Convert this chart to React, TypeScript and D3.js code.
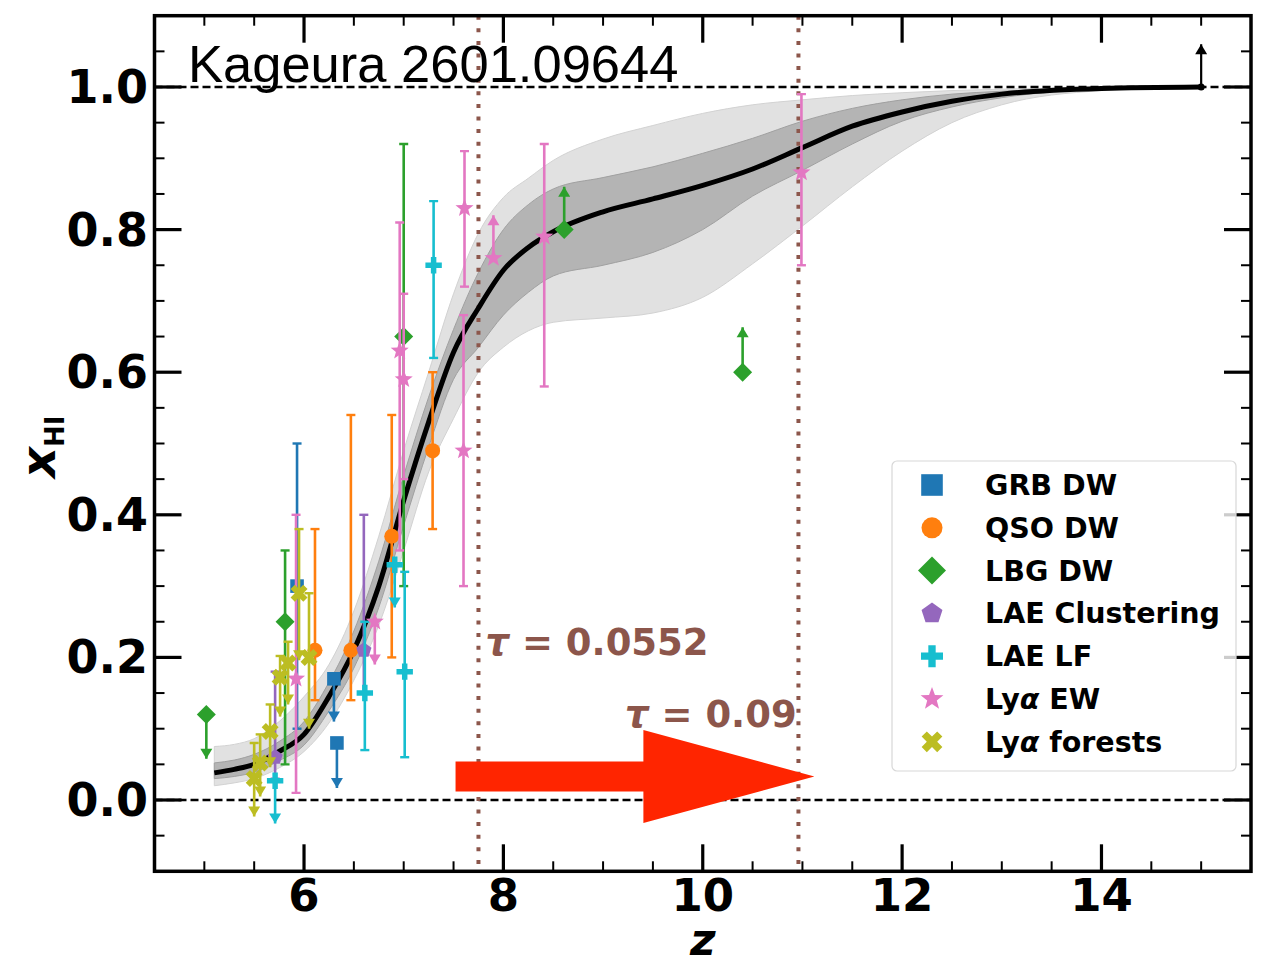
import React from 'react';
import * as d3 from 'd3';

// ---------------- data ----------------
const xTicks = [6, 8, 10, 12, 14];
const yTicks = [0.0, 0.2, 0.4, 0.6, 0.8, 1.0];

const bandZ = [5.1, 5.3, 5.5, 5.75, 6.0, 6.25, 6.5, 6.75, 7.0, 7.25, 7.5, 7.75, 8.0, 8.25, 8.5, 9.0, 9.5, 10.0, 10.5, 11.0, 11.5, 12.0, 12.5, 13.0, 14.0, 15.0];
const medianXHI = [0.038, 0.043, 0.05, 0.068, 0.092, 0.145, 0.21, 0.30, 0.42, 0.53, 0.628, 0.69, 0.743, 0.775, 0.797, 0.825, 0.843, 0.862, 0.885, 0.915, 0.945, 0.965, 0.98, 0.99, 0.998, 1.0];
const innerHi = [0.052, 0.056, 0.064, 0.082, 0.11, 0.165, 0.237, 0.335, 0.455, 0.565, 0.66, 0.74, 0.80, 0.835, 0.857, 0.873, 0.888, 0.907, 0.928, 0.952, 0.97, 0.982, 0.99, 0.994, 0.999, 1.0];
const innerLo = [0.030, 0.033, 0.039, 0.055, 0.077, 0.125, 0.185, 0.27, 0.385, 0.495, 0.59, 0.635, 0.68, 0.712, 0.735, 0.75, 0.768, 0.80, 0.847, 0.883, 0.92, 0.952, 0.972, 0.985, 0.997, 1.0];
const outerHi = [0.075, 0.078, 0.086, 0.11, 0.145, 0.19, 0.265, 0.37, 0.49, 0.60, 0.71, 0.795, 0.845, 0.872, 0.897, 0.927, 0.946, 0.963, 0.975, 0.982, 0.988, 0.992, 0.995, 0.997, 0.999, 1.0];
const outerLo = [0.020, 0.024, 0.03, 0.045, 0.068, 0.108, 0.168, 0.245, 0.35, 0.46, 0.535, 0.60, 0.635, 0.658, 0.67, 0.676, 0.683, 0.705, 0.752, 0.805, 0.86, 0.91, 0.95, 0.975, 0.995, 1.0];

type Pt = { z: number; v: number; lo: number; hi: number; lim?: 'up' | 'low' };

const grbDW: Pt[] = [
  { z: 5.93, v: 0.30, lo: 0.20, hi: 0.20 },
  { z: 6.30, v: 0.17, lo: 0.06, hi: 0, lim: 'up' },
  { z: 6.33, v: 0.08, lo: 0.063, hi: 0, lim: 'up' },
];
const qsoDW: Pt[] = [
  { z: 6.11, v: 0.21, lo: 0.07, hi: 0.17 },
  { z: 6.47, v: 0.21, lo: 0.07, hi: 0.33 },
  { z: 6.88, v: 0.37, lo: 0.17, hi: 0.17 },
  { z: 7.29, v: 0.49, lo: 0.11, hi: 0.11 },
];
const lbgDW: Pt[] = [
  { z: 5.02, v: 0.12, lo: 0.062, hi: 0, lim: 'up' },
  { z: 5.81, v: 0.25, lo: 0.20, hi: 0.10 },
  { z: 7.00, v: 0.65, lo: 0.35, hi: 0.27 },
  { z: 8.61, v: 0.80, lo: 0, hi: 0.06, lim: 'low' },
  { z: 10.40, v: 0.60, lo: 0, hi: 0.063, lim: 'low' },
];
const laeClustering: Pt[] = [
  { z: 5.71, v: 0.06, lo: 0.03, hi: 0.12 },
  { z: 6.60, v: 0.21, lo: 0.06, hi: 0.19 },
];
const laeLF: Pt[] = [
  { z: 5.71, v: 0.027, lo: 0.06, hi: 0, lim: 'up' },
  { z: 6.61, v: 0.15, lo: 0.08, hi: 0.10 },
  { z: 6.91, v: 0.33, lo: 0.06, hi: 0, lim: 'up' },
  { z: 7.01, v: 0.18, lo: 0.12, hi: 0.14 },
  { z: 7.30, v: 0.75, lo: 0.13, hi: 0.09 },
];
const lyaEW: Pt[] = [
  { z: 5.92, v: 0.17, lo: 0.16, hi: 0.23 },
  { z: 6.71, v: 0.25, lo: 0.06, hi: 0, lim: 'up' },
  { z: 6.96, v: 0.63, lo: 0.28, hi: 0.18 },
  { z: 7.00, v: 0.59, lo: 0.14, hi: 0.12 },
  { z: 7.61, v: 0.83, lo: 0.11, hi: 0.08 },
  { z: 7.60, v: 0.49, lo: 0.19, hi: 0.19 },
  { z: 7.90, v: 0.76, lo: 0, hi: 0.06, lim: 'low' },
  { z: 8.41, v: 0.79, lo: 0.21, hi: 0.13 },
  { z: 10.99, v: 0.88, lo: 0.13, hi: 0.11 },
];
const lyaForests: Pt[] = [
  { z: 5.50, v: 0.030, lo: 0.053, hi: 0.05, lim: 'up' },
  { z: 5.56, v: 0.052, lo: 0.047, hi: 0.04, lim: 'up' },
  { z: 5.66, v: 0.096, lo: 0.05, hi: 0.038, lim: 'up' },
  { z: 5.76, v: 0.172, lo: 0.055, hi: 0.03, lim: 'up' },
  { z: 5.84, v: 0.192, lo: 0.058, hi: 0.03, lim: 'up' },
  { z: 5.95, v: 0.29, lo: 0.094, hi: 0.09, lim: 'up' },
  { z: 6.05, v: 0.20, lo: 0.10, hi: 0.09, lim: 'up' },
];
const limitPoint: Pt[] = [{ z: 15.0, v: 1.0, lo: 0, hi: 0.06, lim: 'low' }];

const tauLines = [7.75, 10.96];
const tauLabels = [
  { z: 7.82, v: 0.203, text: '0.0552' },
  { z: 9.22, v: 0.102, text: '0.09' },
];
const redArrow = { z0: 7.52, z1: 11.12, v: 0.033 };
const refLines = [0.0, 1.0];

// ---------------- geometry ----------------
const W = 1269;
const H = 964;
const x = d3.scaleLinear().domain([4.5, 15.5]).range([154.5, 1251]);
const y = d3.scaleLinear().domain([-0.1, 1.1]).range([871.3, 15.7]);
const X0 = x(4.5), X1 = x(15.5), Y0 = y(-0.1), Y1 = y(1.1);

type Shape = 'square' | 'circle' | 'diamond' | 'pentagon' | 'plus' | 'star' | 'x';

function polyPath(pts: [number, number][]) {
  return 'M' + pts.map(p => `${p[0].toFixed(2)},${p[1].toFixed(2)}`).join('L') + 'Z';
}
function markerPath(shape: Shape, s: number): string {
  switch (shape) {
    case 'square':
      return polyPath([[-s, -s], [s, -s], [s, s], [-s, s]]);
    case 'circle':
      return `M${s},0A${s},${s} 0 1,1 ${-s},0A${s},${s} 0 1,1 ${s},0Z`;
    case 'diamond':
      return polyPath([[0, -s], [s, 0], [0, s], [-s, 0]]);
    case 'pentagon': {
      const pts: [number, number][] = [];
      for (let k = 0; k < 5; k++) {
        const a = -Math.PI / 2 + (k * 2 * Math.PI) / 5;
        pts.push([s * Math.cos(a), s * Math.sin(a)]);
      }
      return polyPath(pts);
    }
    case 'star': {
      const pts: [number, number][] = [];
      for (let k = 0; k < 10; k++) {
        const a = -Math.PI / 2 + (k * Math.PI) / 5;
        const r = k % 2 === 0 ? s : s * 0.42;
        pts.push([r * Math.cos(a), r * Math.sin(a)]);
      }
      return polyPath(pts);
    }
    case 'plus':
    case 'x': {
      const a = s / 3;
      const base: [number, number][] = [
        [-a, -s], [a, -s], [a, -a], [s, -a], [s, a], [a, a], [a, s], [-a, s], [-a, a], [-s, a], [-s, -a], [-a, -a],
      ];
      if (shape === 'plus') return polyPath(base);
      const c = Math.cos(Math.PI / 4), sn = Math.sin(Math.PI / 4);
      return polyPath(base.map(([px, py]) => [px * c - py * sn, px * sn + py * c] as [number, number]));
    }
  }
  return '';
}

type Series = { name: string; label: React.ReactNode; color: string; shape: Shape; size: number; legendSize: number; data: Pt[] };

const series: Series[] = [
  { name: 'GRB DW', label: 'GRB DW', color: '#1f77b4', shape: 'square', size: 6.8, legendSize: 10.8, data: grbDW },
  { name: 'QSO DW', label: 'QSO DW', color: '#ff7f0e', shape: 'circle', size: 7.5, legendSize: 10.5, data: qsoDW },
  { name: 'LBG DW', label: 'LBG DW', color: '#2ca02c', shape: 'diamond', size: 9.5, legendSize: 14, data: lbgDW },
  { name: 'LAE Clustering', label: 'LAE Clustering', color: '#9467bd', shape: 'pentagon', size: 8, legendSize: 11, data: laeClustering },
  { name: 'LAE LF', label: 'LAE LF', color: '#17becf', shape: 'plus', size: 8.2, legendSize: 11, data: laeLF },
  { name: 'Lya EW', label: (<><tspan>Ly</tspan><tspan fontStyle="italic">α</tspan><tspan> EW</tspan></>), color: '#e377c2', shape: 'star', size: 9.5, legendSize: 12, data: lyaEW },
  { name: 'Lya forests', label: (<><tspan>Ly</tspan><tspan fontStyle="italic">α</tspan><tspan> forests</tspan></>), color: '#bcbd22', shape: 'x', size: 9, legendSize: 11, data: lyaForests },
];

function ErrorBar({ p, color, lw = 2.6 }: { p: Pt; color: string; lw?: number }) {
  const cx = x(p.z);
  const yt = y(p.v + p.hi);
  const yb = y(p.v - p.lo);
  const cap = 4.5;
  const ah = 10, aw = 6;
  const els: React.ReactNode[] = [];
  els.push(<line key="l" x1={cx} x2={cx} y1={yt} y2={yb} stroke={color} strokeWidth={lw} />);
  if (p.lim === 'up') {
    if (p.hi > 0) els.push(<line key="ct" x1={cx - cap} x2={cx + cap} y1={yt} y2={yt} stroke={color} strokeWidth={2.4} />);
    els.push(<path key="a" d={`M${cx - aw},${yb - ah}L${cx + aw},${yb - ah}L${cx},${yb}Z`} fill={color} />);
  } else if (p.lim === 'low') {
    if (p.lo > 0) els.push(<line key="cb" x1={cx - cap} x2={cx + cap} y1={yb} y2={yb} stroke={color} strokeWidth={2.4} />);
    els.push(<path key="a" d={`M${cx - aw},${yt + ah}L${cx + aw},${yt + ah}L${cx},${yt}Z`} fill={color} />);
  } else {
    els.push(<line key="ct" x1={cx - cap} x2={cx + cap} y1={yt} y2={yt} stroke={color} strokeWidth={2.4} />);
    els.push(<line key="cb" x1={cx - cap} x2={cx + cap} y1={yb} y2={yb} stroke={color} strokeWidth={2.4} />);
  }
  return <g>{els}</g>;
}

export default function App() {
  const area = (lo: number[], hi: number[]) =>
    d3.area<number>()
      .x((_, i) => x(bandZ[i]))
      .y0((_, i) => y(lo[i]))
      .y1((_, i) => y(hi[i]))
      .curve(d3.curveMonotoneX)(bandZ) as string;
  const line = d3.line<number>()
    .x((_, i) => x(bandZ[i]))
    .y((_, i) => y(medianXHI[i]))
    .curve(d3.curveMonotoneX)(bandZ) as string;

  const minorX = d3.range(4.5, 15.51, 0.5).filter(v => Math.abs(v - Math.round(v / 2) * 2) > 1e-6);
  const minorY = d3.range(-0.1, 1.1001, 0.05).map(v => Math.round(v * 100) / 100).filter(v => Math.abs(v * 5 - Math.round(v * 5)) > 1e-6);

  const font = 'DejaVu Sans, sans-serif';
  const brown = '#8c564b';

  const ax0 = x(redArrow.z0), ax1 = x(redArrow.z1), ay = y(redArrow.v);
  const shaftH = 15, headH = 46.5, headL = 171;
  const arrowPts: [number, number][] = [
    [ax0, ay - shaftH], [ax1 - headL, ay - shaftH], [ax1 - headL, ay - headH], [ax1, ay],
    [ax1 - headL, ay + headH], [ax1 - headL, ay + shaftH], [ax0, ay + shaftH],
  ];

  const legX = 892, legY = 461, legW = 344, legH = 310;
  const rowY = (i: number) => 485 + i * 42.8;

  return (
    <svg width={W} height={H} style={{ position: 'absolute', left: 0, top: 0, display: 'block', background: '#fff' }} fontFamily={font}>
      <rect x={0} y={0} width={W} height={H} fill="#fff" />
      <defs>
        <clipPath id="plot">
          <rect x={X0} y={Y1} width={X1 - X0} height={Y0 - Y1} />
        </clipPath>
      </defs>
      <g clipPath="url(#plot)">
        {/* bands */}
        <path d={area(outerLo, outerHi)} fill="#e1e1e1" stroke="#d2d2d2" strokeWidth={1} />
        <path d={area(innerLo, innerHi)} fill="#b4b4b4" stroke="#a0a0a0" strokeWidth={1} />
        {/* reference dashed lines */}
        {refLines.map(v => (
          <line key={v} x1={X0} x2={X1} y1={y(v)} y2={y(v)} stroke="#000" strokeWidth={2.4} strokeDasharray="8,4" />
        ))}
        {/* tau lines */}
        {tauLines.map(z => (
          <line key={z} x1={x(z)} x2={x(z)} y1={Y1} y2={Y0} stroke={brown} strokeWidth={4} strokeDasharray="4,8.6" />
        ))}
        {/* median curve */}
        <path d={line} fill="none" stroke="#000" strokeWidth={5} />
        {/* data */}
        {series.map(s => (
          <g key={s.name}>
            {s.data.map((p, i) => (
              <g key={i}>
                <ErrorBar p={p} color={s.color} />
                <path d={markerPath(s.shape, s.size)} transform={`translate(${x(p.z)},${y(p.v)})`} fill={s.color} />
              </g>
            ))}
          </g>
        ))}
        {limitPoint.map((p, i) => (
          <g key={i}>
            <ErrorBar p={p} color="#000" lw={2.2} />
            <circle cx={x(p.z)} cy={y(p.v)} r={3.5} fill="#000" />
          </g>
        ))}
        {/* red arrow */}
        <path d={polyPath(arrowPts)} fill="#ff2500" />
      </g>

      {/* tau labels */}
      {tauLabels.map((t, i) => (
        <text key={i} x={x(t.z)} y={y(t.v)} fontSize={37} fontWeight="bold" fill={brown}>
          <tspan fontStyle="italic">τ</tspan>
          <tspan> = {t.text}</tspan>
        </text>
      ))}

      {/* annotation */}
      <text x={188} y={82} fontSize={52.5} fontFamily="Liberation Sans, Arial, sans-serif" fill="#000">Kageura 2601.09644</text>

      {/* ticks */}
      <g stroke="#000">
        {xTicks.map(t => (
          <g key={'xt' + t}>
            <line x1={x(t)} x2={x(t)} y1={Y0} y2={Y0 - 27} strokeWidth={3.2} />
            <line x1={x(t)} x2={x(t)} y1={Y1} y2={Y1 + 27} strokeWidth={3.2} />
          </g>
        ))}
        {minorX.map(t => (
          <g key={'xm' + t}>
            <line x1={x(t)} x2={x(t)} y1={Y0} y2={Y0 - 10} strokeWidth={2} />
            <line x1={x(t)} x2={x(t)} y1={Y1} y2={Y1 + 10} strokeWidth={2} />
          </g>
        ))}
        {yTicks.map(t => (
          <g key={'yt' + t}>
            <line x1={X0} x2={X0 + 27} y1={y(t)} y2={y(t)} strokeWidth={3.2} />
            <line x1={X1} x2={X1 - 27} y1={y(t)} y2={y(t)} strokeWidth={3.2} />
          </g>
        ))}
        {minorY.map(t => (
          <g key={'ym' + t}>
            <line x1={X0} x2={X0 + 10} y1={y(t)} y2={y(t)} strokeWidth={2} />
            <line x1={X1} x2={X1 - 10} y1={y(t)} y2={y(t)} strokeWidth={2} />
          </g>
        ))}
      </g>

      {/* legend */}
      <rect x={legX} y={legY} width={legW} height={legH} rx={5} fill="#fff" fillOpacity={0.8} stroke="#d8d8d8" strokeWidth={1.2} />
      {series.map((s, i) => (
        <g key={'leg' + s.name}>
          <path d={markerPath(s.shape, s.legendSize)} transform={`translate(932,${rowY(i)})`} fill={s.color} />
          <text x={985} y={rowY(i) + 10} fontSize={28.5} fontWeight="bold" fill="#000">{s.label}</text>
        </g>
      ))}

      {/* frame */}
      <rect x={X0} y={Y1} width={X1 - X0} height={Y0 - Y1} fill="none" stroke="#000" strokeWidth={3.5} />

      {/* tick labels */}
      {xTicks.map(t => (
        <text key={'xl' + t} x={x(t)} y={911} textAnchor="middle" fontSize={45} fontWeight="bold">{t}</text>
      ))}
      {yTicks.map(t => (
        <text key={'yl' + t} x={148} y={y(t) + 16} textAnchor="end" fontSize={46} fontWeight="bold">{t.toFixed(1)}</text>
      ))}

      {/* axis labels */}
      <text x={x(10)} y={955} textAnchor="middle" fontSize={44} fontWeight="bold" fontStyle="italic">z</text>
      <text transform="translate(55,478) rotate(-90)" fontSize={48} fontWeight="bold">
        <tspan fontStyle="italic">x</tspan>
        <tspan fontSize={26} dy={9}>HI</tspan>
      </text>
    </svg>
  );
}
